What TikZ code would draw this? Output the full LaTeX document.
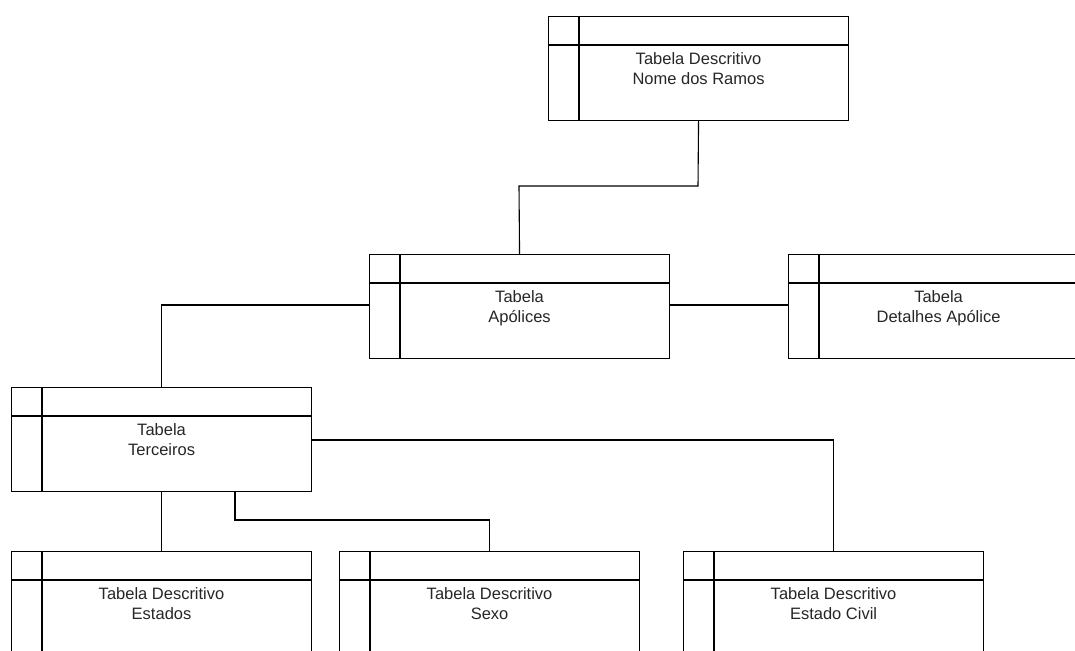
\documentclass[tikz,border=0pt]{standalone}
\usepackage{fontspec}
\setmainfont{Liberation Sans}
\begin{document}
\begin{tikzpicture}[x=1pt,y=-1pt,
  tbl/.style={draw, line width=1.1pt, rectangle, anchor=north west, inner sep=0pt,
    minimum width=300pt, minimum height=104pt},
  lbl/.style={anchor=north, align=center, inner sep=0pt, text=black!85,
    font=\fontsize{16.5}{20}\selectfont},
  wire/.style={draw, line width=1.1pt}]
\useasboundingbox (0,0) rectangle (1075,650);
\clip (0,0) rectangle (1075,650);

% table boxes: header strip of 29pt and a key column of 31pt
\newcommand{\tablebox}[4]{%
  \node[tbl] (#1) at (#2,#3) {};
  \draw[line width=1.1pt] ([yshift=-29pt]#1.north west) -- ([yshift=-29pt]#1.north east);
  \draw[line width=1.1pt] ([xshift=31pt]#1.north west) -- ([xshift=31pt]#1.south west);
  \node[lbl] (#1-t) at ([yshift=-36pt]#1.north) {#4};}

\tablebox{ramos}{548}{16}{Tabela Descritivo\\Nome dos Ramos}
\tablebox{apolices}{369}{254}{Tabela\\Apólices}
\tablebox{detalhes}{788}{254}{Tabela\\Detalhes Apólice}
\tablebox{terceiros}{11}{387}{Tabela\\Terceiros}
\tablebox{estados}{11}{551}{Tabela Descritivo\\Estados}
\tablebox{sexo}{339}{551}{Tabela Descritivo\\Sexo}
\tablebox{civil}{683}{551}{Tabela Descritivo\\Estado Civil}

% connectors
\coordinate (j1) at (698,186);
\coordinate (j2) at (519,186);
\draw[wire] (ramos.south) -- (j1) -- (j2) -- (apolices.north);
\draw[wire] (apolices.east |- 0,305) -- (detalhes.west |- 0,305);
\draw[wire] (apolices.west |- 0,305) -| (terceiros.north);
\draw[wire] (terceiros.east |- 0,440) -| (civil.north);
\draw[wire] (terceiros.south) -- (estados.north);
\coordinate (s1) at (235,491);
\draw[wire] (s1) -- (235,520) -| (sexo.north);
\end{tikzpicture}
\end{document}
